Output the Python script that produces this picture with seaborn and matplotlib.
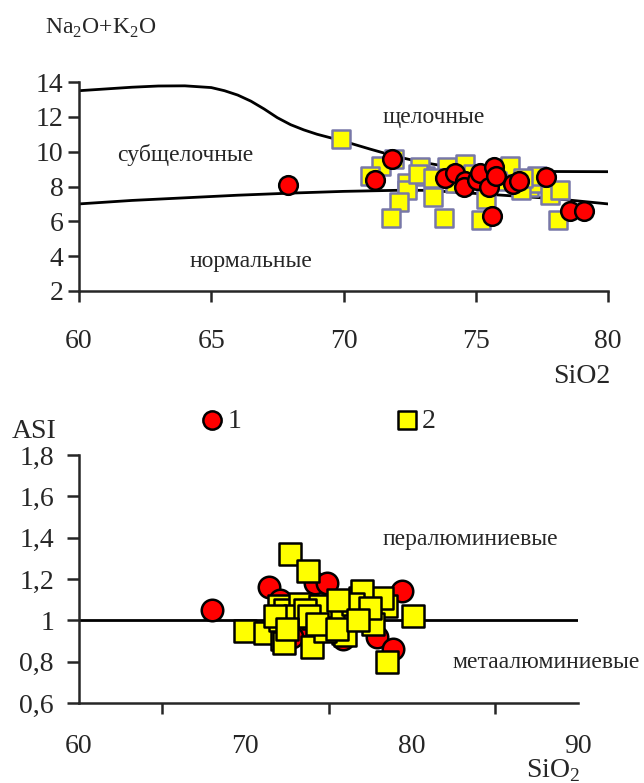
import numpy as np
import pandas as pd
import matplotlib
matplotlib.use("Agg")
import matplotlib.pyplot as plt
import seaborn as sns

# Граничные линии (TAS)
upper_x = [60, 61, 62, 63, 64, 65, 65.5, 66, 66.5, 67, 67.5, 68, 68.5, 69, 69.5, 70,
           71, 72, 73, 74, 75, 76, 77, 78, 80]
upper_y = [13.5, 13.6, 13.7, 13.77, 13.78, 13.68, 13.5, 13.25, 12.9, 12.45, 11.95,
           11.55, 11.25, 11.0, 10.8, 10.6, 10.15, 9.72, 9.38, 9.13, 8.98, 8.92,
           8.88, 8.86, 8.85]
lower_x = [60, 62, 64, 66, 68, 70, 72, 73, 74, 75, 76, 77, 78, 79, 80]
lower_y = [7.0, 7.2, 7.35, 7.5, 7.62, 7.72, 7.78, 7.78, 7.7, 7.6, 7.5, 7.4, 7.3, 7.15, 7.0]

# Группа 1 (круги), верхний график
g1_sio2 = [67.9, 71.2, 71.85, 73.85, 74.2, 74.6, 74.55, 75.05, 75.15, 75.5, 75.7,
           75.75, 76.4, 76.65, 75.6, 77.65, 78.55, 79.1]
g1_alk = [8.1, 8.4, 9.6, 8.5, 8.8, 8.3, 8.0, 8.4, 8.8, 8.0, 9.1,
          8.6, 8.15, 8.3, 6.3, 8.55, 6.6, 6.6]

# Группа 2 (квадраты), верхний график
g2_sio2 = [69.9, 71.9, 71.4, 71.0, 72.4, 72.4, 72.1, 71.8, 72.9, 73.1, 72.8, 73.4,
           73.8, 73.9, 73.4, 74.6, 76.3, 75.4, 75.2, 77.0, 77.3, 77.3, 77.8, 78.2,
           78.1, 76.7, 74.9, 75.8, 76.8, 74.2]
g2_alk = [10.7, 9.6, 9.2, 8.6, 8.2, 7.8, 7.1, 6.2, 9.1, 8.6, 8.7, 7.4,
          6.2, 9.1, 8.5, 9.3, 9.2, 7.3, 6.1, 8.0, 8.2, 8.6, 7.5, 7.8,
          6.1, 7.8, 8.7, 8.3, 8.5, 8.2]

# Нижний график (ASI)
b1_sio2 = [68.0, 71.4, 72.1, 74.2, 74.9, 79.4, 77.9, 78.85, 75.9, 74.2, 72.6,
           73.2, 76.5, 75.2, 77.3, 72.8]
b1_asi = [1.05, 1.16, 1.10, 1.18, 1.18, 1.14, 0.92, 0.86, 0.91, 0.93, 1.03,
          0.97, 1.06, 0.99, 1.05, 0.92]
b2_sio2 = [70.0, 71.2, 72.2, 72.1, 72.0, 72.4, 73.3, 73.0, 72.7, 73.75, 74.0, 78.5,
           80.1, 78.45, 75.9, 76.0, 74.05, 77.0, 76.9, 78.2, 75.2, 76.2, 75.3, 74.5,
           77.0, 77.7, 72.3, 73.6, 74.8, 76.5, 77.5, 73.8, 75.6, 71.8, 72.5, 74.3,
           75.5, 76.8]
b2_asi = [0.95, 0.94, 0.91, 1.00, 1.07, 1.05, 1.08, 1.02, 1.32, 1.24, 0.87, 0.80,
          1.02, 1.07, 0.94, 0.93, 1.01, 1.04, 1.11, 1.11, 1.07, 1.04, 1.00, 1.07,
          1.14, 0.98, 0.89, 1.05, 0.95, 1.08, 1.06, 1.02, 1.10, 1.02, 0.96, 0.98,
          0.96, 1.00]

sns.set_style("ticks")
plt.rcParams["font.family"] = ["Liberation Serif", "DejaVu Serif"]
plt.rcParams["mathtext.fontset"] = "custom"
plt.rcParams["mathtext.rm"] = "Liberation Serif"
plt.rcParams["axes.linewidth"] = 1.8

fig = plt.figure(figsize=(6.44, 7.83), dpi=100)
W, H = 644, 783
ax1 = fig.add_axes([79 / W, 1 - 291 / H, (608 - 79) / W, (291 - 82) / H])
ax2 = fig.add_axes([79 / W, 1 - 703 / H, (578 - 79) / W, (703 - 455) / H])

RED = "#ff0000"
YEL = "#ffff00"
TICK = 20
ANN = 17

# --- верхний график ---
sns.lineplot(x=upper_x, y=upper_y, ax=ax1, color="black", lw=2, sort=False,
             zorder=1, solid_joinstyle="round")
sns.lineplot(x=lower_x, y=lower_y, ax=ax1, color="black", lw=2, sort=False,
             zorder=1, solid_joinstyle="round")
sns.scatterplot(x=g2_sio2, y=g2_alk, ax=ax1, marker="s", s=175, color=YEL,
                edgecolor="#7878a8", linewidth=1.8, zorder=2)
sns.scatterplot(x=g1_sio2, y=g1_alk, ax=ax1, marker="o", s=180, color=RED,
                edgecolor="black", linewidth=1.8, zorder=3)

ax1.set_xlim(60, 80)
ax1.set_ylim(2, 14)
ax1.set_xticks([60, 65, 70, 75, 80])
ax1.set_yticks([2, 4, 6, 8, 10, 12, 14])
ax1.tick_params(axis="x", length=8, width=1.8, pad=19, labelsize=TICK)
ax1.tick_params(axis="y", length=8, width=1.8, pad=3, labelsize=TICK)
sns.despine(ax=ax1)
ax1.set_xlabel("")
ax1.set_ylabel("")

ax1.text(73.4, 11.94, "щелочные", ha="center", va="center", fontsize=ANN)
ax1.text(64.0, 9.82, "субщелочные", ha="center", va="center", fontsize=ANN)
ax1.text(66.5, 3.67, "нормальные", ha="center", va="center", fontsize=ANN)

fig.text(45 / W, 1 - 28 / H, "Na$_\\mathrm{2}$O+K$_\\mathrm{2}$O", ha="left",
         va="center", fontsize=17)
fig.text(610 / W, 1 - 377 / H, "SiO2", ha="right", va="center", fontsize=TICK)

# --- нижний график ---
ax2.axhline(1, color="black", lw=2, zorder=1)
sns.scatterplot(x=b1_sio2, y=b1_asi, ax=ax2, marker="o", s=240, color=RED,
                edgecolor="black", linewidth=1.8, zorder=2, label="1")
sns.scatterplot(x=b2_sio2, y=b2_asi, ax=ax2, marker="s", s=240, color=YEL,
                edgecolor="black", linewidth=1.8, zorder=3, label="2")

ax2.set_xlim(60, 90)
ax2.set_ylim(0.6, 1.8)
ax2.set_xticks([60, 70, 80, 90])
ax2.set_xticks([65, 75, 85], minor=True)
ax2.set_yticks([0.6, 0.8, 1.0, 1.2, 1.4, 1.6, 1.8])
ax2.set_yticklabels(["0,6", "0,8", "1", "1,2", "1,4", "1,6", "1,8"])
ax2.tick_params(axis="x", which="major", length=0, pad=22, labelsize=TICK)
ax2.tick_params(axis="x", which="minor", length=8, width=1.8)
ax2.tick_params(axis="y", length=9, width=1.8, pad=9, labelsize=TICK)
sns.despine(ax=ax2)
ax2.set_xlabel("")
ax2.set_ylabel("")

ax2.text(83.5, 1.389, "пералюминиевые", ha="center", va="center", fontsize=ANN)
ax2.text(88.1, 0.795, "метаалюминиевые", ha="center", va="center", fontsize=ANN,
         clip_on=False)

fig.text(12 / W, 1 - 432 / H, "ASI", ha="left", va="center", fontsize=TICK)
fig.text(580 / W, 1 - 771 / H, "SiO$_\\mathrm{2}$", ha="right", va="center",
         fontsize=TICK)

ax2.legend(ncol=2, frameon=False, loc="center left",
           bbox_to_anchor=(186 / W, 1 - 421 / H), bbox_transform=fig.transFigure,
           fontsize=TICK, handletextpad=0.0, columnspacing=5.4, markerscale=0.85,
           borderaxespad=0, handlelength=1.1)

fig.savefig("out.png", dpi=100)
